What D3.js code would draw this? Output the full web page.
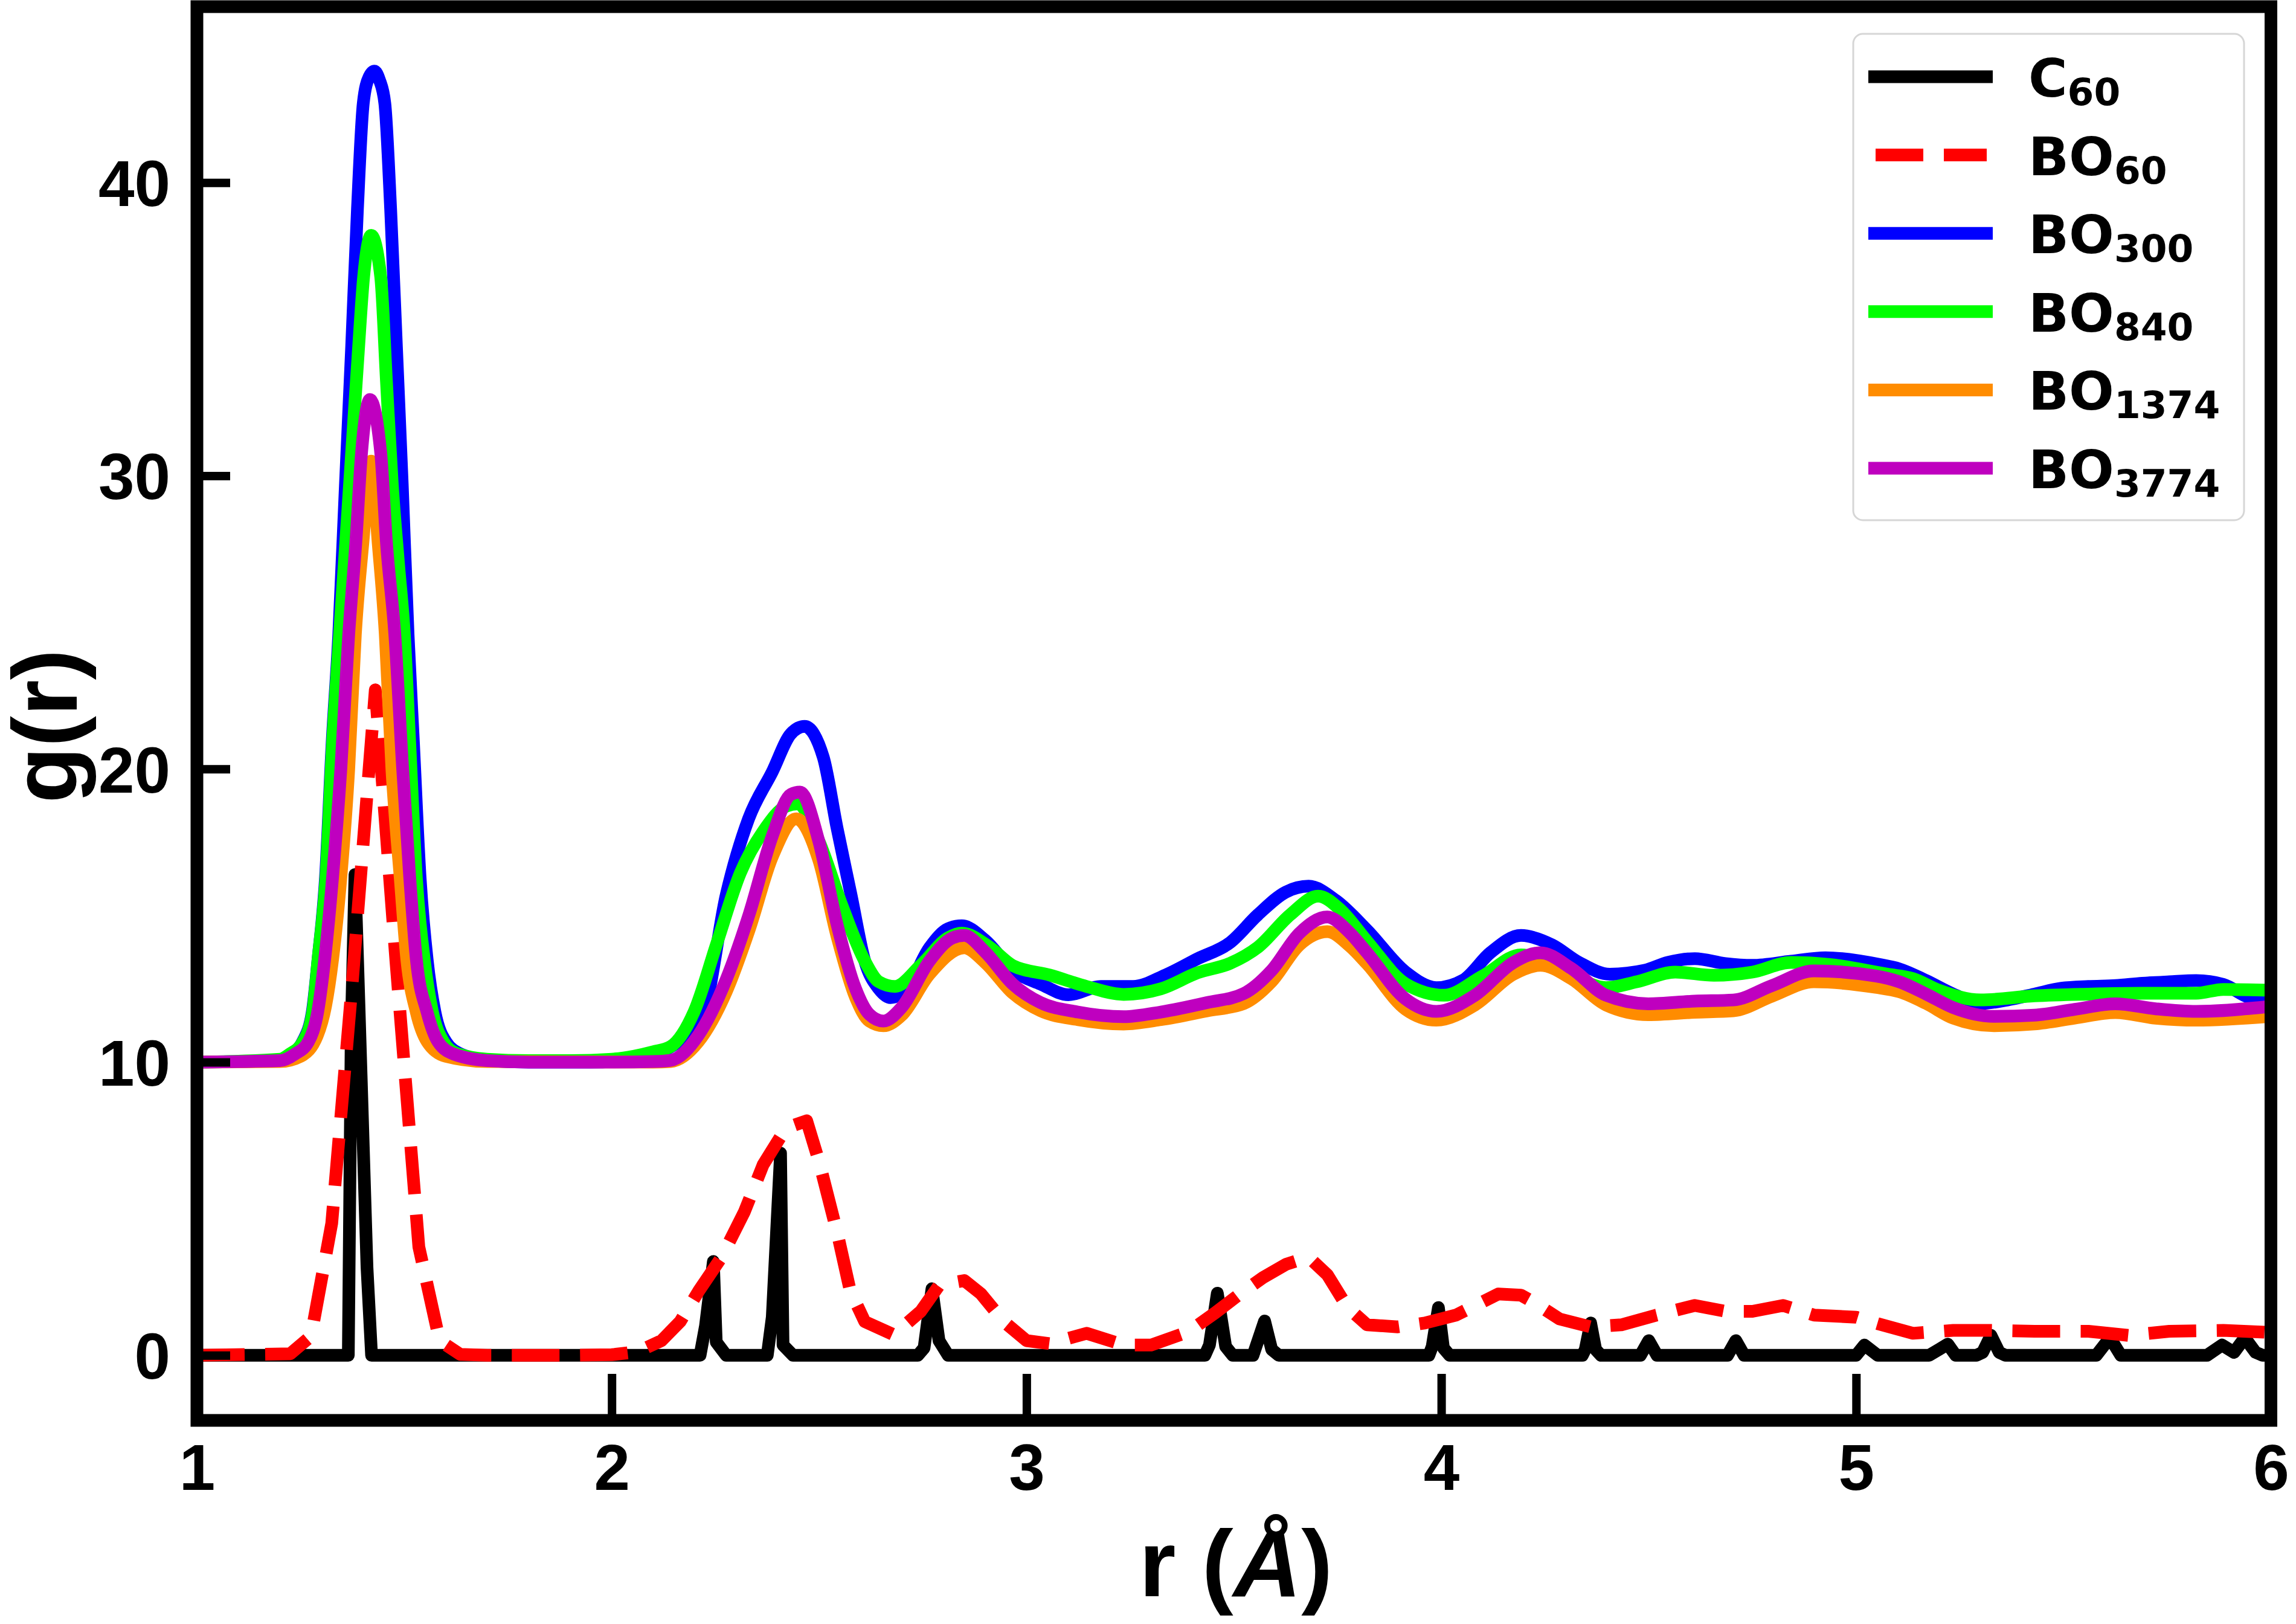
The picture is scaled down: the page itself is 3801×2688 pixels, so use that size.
<!DOCTYPE html>
<html>
<head>
<meta charset="utf-8">
<script src="https://cdn.jsdelivr.net/npm/d3@7"></script>
<style>
  body { margin: 0; background: #fff; }
  svg { display: block; }
</style>
</head>
<body>
<div id="chart"></div>
<script>
// radial distribution functions
// the BO300..BO3774 curves are drawn shifted up by 10, as in the figure

var xTicks = [1, 2, 3, 4, 5, 6];
var yTicks = [0, 10, 20, 30, 40];

var c60 = [
  [1.0,0],[1.365,0],[1.372,11],[1.381,16.4],[1.41,3.0],[1.421,0],
  [2.213,0],[2.226,1.0],[2.245,3.2],[2.252,0.45],[2.276,0],
  [2.375,0],[2.387,1.3],[2.407,6.9],[2.413,0.35],[2.437,0],
  [2.738,0],[2.753,0.25],[2.772,2.27],[2.789,0.5],[2.811,0],
  [3.43,0],[3.441,0.35],[3.46,2.12],[3.48,0.3],[3.497,0],
  [3.546,0],[3.574,1.17],[3.591,0.2],[3.608,0],
  [3.97,0],[3.978,0.3],[3.993,1.63],[4.005,0.25],[4.02,0],
  [4.34,0],[4.347,0.2],[4.36,1.1],[4.372,0.2],[4.385,0],
  [4.48,0],[4.50,0.5],[4.52,0],
  [4.69,0],[4.71,0.5],[4.73,0],
  [5.0,0],[5.02,0.35],[5.052,0],
  [5.176,0],[5.20,0.2],[5.221,0.38],[5.24,0],
  [5.29,0],[5.305,0.1],[5.325,0.68],[5.345,0.1],[5.36,0],
  [5.579,0],[5.612,0.6],[5.638,0],
  [5.846,0],[5.882,0.35],[5.911,0.1],[5.937,0.6],[5.963,0.1],[5.98,0],[6.0,0]
];

var bo60 = [
  [1.0,0],[1.225,0.05],[1.275,0.65],[1.325,4.5],[1.375,12.8],[1.43,22.7],
  [1.48,13.4],[1.535,3.7],[1.585,0.5],[1.635,0.03],[1.70,0],[1.90,0],[2.0,0.02],
  [2.062,0.12],[2.12,0.5],[2.165,1.15],[2.21,2.2],[2.265,3.35],[2.32,4.9],
  [2.365,6.5],[2.42,7.75],[2.47,8.0],[2.50,6.6],[2.545,4.1],[2.575,2.2],
  [2.61,1.15],[2.68,0.7],[2.745,1.5],[2.79,2.4],[2.85,2.55],[2.89,2.1],
  [2.945,1.15],[3.0,0.5],[3.055,0.4],[3.145,0.75],[3.235,0.35],[3.30,0.35],
  [3.39,0.8],[3.455,1.45],[3.515,2.1],[3.57,2.65],[3.625,3.1],[3.68,3.35],
  [3.725,2.75],[3.774,1.63],[3.821,1.04],[3.895,0.97],[3.96,1.1],[4.035,1.37],
  [4.072,1.63],[4.137,2.09],[4.192,2.05],[4.22,1.83],[4.285,1.24],[4.36,0.97],
  [4.434,1.04],[4.518,1.37],[4.611,1.7],[4.685,1.5],[4.75,1.5],[4.824,1.7],
  [4.899,1.37],[5.0,1.3],[5.052,1.08],[5.137,0.75],[5.234,0.85],[5.325,0.85],
  [5.43,0.82],[5.56,0.82],[5.657,0.68],[5.755,0.82],[5.885,0.85],[6.0,0.78]
];

var bo300 = [
  [1.0,10.0],[1.20,10.05],[1.225,10.25],[1.255,10.7],[1.278,11.7],[1.292,13.5],
  [1.310,16.3],[1.326,20.9],[1.342,24.6],[1.358,29.7],[1.373,34.4],[1.387,39.1],
  [1.401,42.7],[1.415,43.6],[1.428,43.8],[1.440,43.5],[1.453,42.7],[1.467,39.1],
  [1.481,34.4],[1.495,29.7],[1.509,24.6],[1.522,20.9],[1.538,16.3],[1.555,13.5],
  [1.574,11.7],[1.600,10.7],[1.640,10.25],[1.70,10.05],[1.80,10.0],[1.95,10.0],
  [2.05,10.1],[2.12,10.35],[2.17,10.8],[2.22,11.6],[2.276,15.7],[2.33,18.3],
  [2.387,19.9],[2.432,21.2],[2.465,21.45],[2.51,20.4],[2.543,18.0],[2.577,15.7],
  [2.61,13.45],[2.644,12.5],[2.672,12.2],[2.711,12.5],[2.766,13.9],[2.811,14.55],
  [2.844,14.65],[2.90,14.16],[2.967,13.13],[3.034,12.66],[3.101,12.3],[3.179,12.58],
  [3.257,12.58],[3.335,12.97],[3.413,13.53],[3.491,14.08],[3.558,15.03],[3.625,15.8],
  [3.68,16.0],[3.747,15.5],[3.821,14.5],[3.914,13.07],[3.988,12.54],[4.053,12.8],
  [4.118,13.73],[4.192,14.32],[4.267,14.0],[4.332,13.4],[4.406,13.0],[4.49,13.13],
  [4.546,13.4],[4.611,13.53],[4.685,13.36],[4.75,13.3],[4.843,13.44],[4.926,13.56],
  [5.056,13.33],[5.104,13.18],[5.169,12.78],[5.234,12.32],[5.30,12.0],[5.365,12.12],
  [5.43,12.32],[5.495,12.52],[5.56,12.58],[5.625,12.61],[5.69,12.69],[5.755,12.74],
  [5.82,12.78],[5.885,12.65],[5.95,12.19],[6.0,12.1]
];

var bo840 = [
  [1.0,10.0],[1.20,10.1],[1.223,10.27],[1.256,10.7],[1.279,11.7],[1.292,13.5],
  [1.311,16.3],[1.327,20.9],[1.344,24.6],[1.360,28.0],[1.374,31.0],[1.388,34.0],
  [1.402,36.8],[1.420,38.2],[1.443,36.8],[1.457,33.2],[1.471,29.7],[1.486,27.0],
  [1.500,24.6],[1.513,20.9],[1.529,16.3],[1.548,13.5],[1.568,11.7],[1.594,10.7],
  [1.626,10.3],[1.70,10.1],[1.80,10.05],[1.90,10.05],[2.0,10.1],[2.053,10.2],
  [2.10,10.35],[2.142,10.53],[2.198,11.7],[2.254,14.08],[2.31,16.45],[2.365,17.87],
  [2.421,18.73],[2.449,18.81],[2.499,17.55],[2.555,15.34],[2.61,13.45],[2.644,12.74],
  [2.683,12.58],[2.744,13.29],[2.811,14.24],[2.844,14.4],[2.911,13.92],[2.967,13.29],
  [3.056,12.97],[3.145,12.58],[3.234,12.31],[3.324,12.5],[3.413,13.05],[3.491,13.37],
  [3.558,13.92],[3.636,15.03],[3.703,15.66],[3.758,15.18],[3.821,14.12],[3.914,12.67],
  [4.007,12.28],[4.10,12.94],[4.192,13.66],[4.285,13.2],[4.397,12.54],[4.471,12.74],
  [4.564,13.07],[4.657,12.96],[4.75,13.07],[4.843,13.4],[4.936,13.33],[5.075,13.0],
  [5.137,12.85],[5.20,12.45],[5.30,12.12],[5.43,12.26],[5.56,12.32],[5.69,12.35],
  [5.82,12.35],[5.885,12.48],[6.0,12.45]
];

var bo1374 = [
  [1.0,10.0],[1.20,10.02],[1.25,10.2],[1.29,10.9],[1.31,11.9],[1.327,13.5],
  [1.347,16.3],[1.366,20.0],[1.382,24.6],[1.400,27.7],[1.420,30.5],[1.437,27.7],
  [1.454,24.6],[1.470,20.0],[1.490,16.3],[1.506,13.5],[1.529,11.7],[1.555,10.7],
  [1.60,10.2],[1.70,10.02],[2.10,10.0],[2.142,10.02],[2.209,10.7],[2.276,12.4],
  [2.331,14.5],[2.387,17.0],[2.445,18.3],[2.499,16.9],[2.543,14.3],[2.588,12.2],
  [2.621,11.4],[2.655,11.24],[2.699,11.6],[2.766,13.0],[2.85,13.9],[2.90,13.4],
  [2.967,12.35],[3.034,11.75],[3.123,11.45],[3.234,11.3],[3.324,11.45],[3.435,11.75],
  [3.524,12.0],[3.591,12.75],[3.658,14.0],[3.725,14.45],[3.78,13.95],[3.821,13.35],
  [3.914,11.8],[3.988,11.43],[4.081,11.95],[4.174,13.0],[4.239,13.3],[4.313,12.85],
  [4.397,11.95],[4.499,11.62],[4.611,11.7],[4.704,11.75],[4.797,12.25],[4.898,12.74],
  [5.047,12.55],[5.104,12.4],[5.169,12.0],[5.234,11.5],[5.332,11.24],[5.43,11.3],
  [5.527,11.5],[5.625,11.69],[5.722,11.5],[5.82,11.43],[6.0,11.56]
];

var bo3774 = [
  [1.0,10.0],[1.20,10.05],[1.236,10.27],[1.269,10.7],[1.291,11.7],[1.308,13.5],
  [1.327,16.3],[1.347,20.0],[1.366,24.6],[1.383,27.7],[1.397,30.8],[1.417,32.6],
  [1.443,30.8],[1.457,27.7],[1.477,24.6],[1.496,20.0],[1.513,16.3],[1.529,13.5],
  [1.555,11.7],[1.581,10.7],[1.62,10.27],[1.70,10.05],[1.80,10.0],[2.0,10.0],
  [2.10,10.02],[2.142,10.06],[2.209,10.92],[2.276,12.82],[2.331,15.03],[2.387,17.71],
  [2.432,19.13],[2.454,19.21],[2.499,17.55],[2.543,14.71],[2.588,12.5],[2.621,11.63],
  [2.655,11.4],[2.699,11.87],[2.766,13.45],[2.822,14.24],[2.85,14.32],[2.90,13.76],
  [2.967,12.66],[3.034,12.03],[3.123,11.71],[3.234,11.55],[3.324,11.71],[3.435,12.03],
  [3.524,12.34],[3.591,13.13],[3.658,14.4],[3.725,14.95],[3.78,14.4],[3.821,13.73],
  [3.914,12.15],[3.988,11.73],[4.081,12.28],[4.174,13.4],[4.239,13.73],[4.313,13.2],
  [4.397,12.28],[4.499,11.99],[4.611,12.08],[4.704,12.12],[4.797,12.61],[4.898,13.11],
  [5.047,12.94],[5.104,12.74],[5.169,12.32],[5.234,11.86],[5.332,11.56],[5.43,11.6],
  [5.527,11.8],[5.625,11.99],[5.722,11.82],[5.82,11.73],[6.0,11.9]
];

var seriesNames = ["C", "BO", "BO", "BO", "BO", "BO"];
var seriesSubs = ["60", "60", "300", "840", "1374", "3774"];
var seriesColors = ["#000000", "#ff0000", "#0000ff", "#00ff00", "#ff8c00", "#bf00bf"];
var seriesData = [c60, bo60, bo300, bo840, bo1374, bo3774];

var W = 3801, H = 2688;
var plotLeft = 326, plotRight = 3759.5, plotTop = 11, plotBottom = 2351;
var lw = 21;

var svg = d3.select("#chart")
    .append("svg")
    .attr("width", W)
    .attr("height", H)
    .style("background", "#fff");

var x = d3.scaleLinear().domain([1, 6]).range([plotLeft, plotRight]);
var y = d3.scaleLinear().domain([-2.22, 46.0]).range([plotBottom, plotTop]);

svg.append("clipPath")
    .attr("id", "plotClip")
    .append("rect")
    .attr("x", plotLeft).attr("y", plotTop)
    .attr("width", plotRight - plotLeft).attr("height", plotBottom - plotTop);

var gLines = svg.append("g").attr("clip-path", "url(#plotClip)");

seriesData.forEach(function (data, i) {
    var line = d3.line()
        .x(function (d) { return x(d[0]); })
        .y(function (d) { return y(d[1]); })
        .curve(i < 2 ? d3.curveLinear : d3.curveMonotoneX);
    var p = gLines.append("path")
        .datum(data)
        .attr("d", line)
        .attr("fill", "none")
        .attr("stroke", seriesColors[i])
        .attr("stroke-width", lw)
        .attr("stroke-linejoin", "round");
    if (i == 1) {
        p.attr("stroke-dasharray", "79,34");
    }
});

// axes, ticks pointing inward
var xAxis = d3.axisBottom(x).tickValues(xTicks).tickSizeInner(-77).tickSizeOuter(0)
    .tickFormat(d3.format("d"));
var gx = svg.append("g")
    .attr("transform", "translate(0," + plotBottom + ")")
    .call(xAxis);
gx.select(".domain").remove();
gx.selectAll(".tick line").attr("stroke", "#000").attr("stroke-width", 14);
gx.selectAll(".tick text")
    .attr("y", 115)
    .attr("dy", null)
    .attr("fill", "#000")
    .style("font-family", "'Liberation Sans', Arial, sans-serif")
    .style("font-weight", "bold")
    .style("font-size", "107px");

var yAxis = d3.axisLeft(y).tickValues(yTicks).tickSizeInner(-55).tickSizeOuter(0)
    .tickFormat(d3.format("d"));
var gy = svg.append("g")
    .attr("transform", "translate(" + plotLeft + ",0)")
    .call(yAxis);
gy.select(".domain").remove();
gy.selectAll(".tick line").attr("stroke", "#000").attr("stroke-width", 14);
gy.selectAll(".tick text")
    .attr("x", -44)
    .attr("dy", "0.36em")
    .attr("fill", "#000")
    .style("font-family", "'Liberation Sans', Arial, sans-serif")
    .style("font-weight", "bold")
    .style("font-size", "107px");

// frame
svg.append("rect")
    .attr("x", plotLeft).attr("y", plotTop)
    .attr("width", plotRight - plotLeft).attr("height", plotBottom - plotTop)
    .attr("fill", "none")
    .attr("stroke", "#000")
    .attr("stroke-width", 21);

// axis labels
var xl = svg.append("text")
    .attr("x", 2046)
    .attr("y", 2642)
    .attr("text-anchor", "middle")
    .style("font-family", "'Liberation Sans', Arial, sans-serif")
    .style("font-weight", "bold")
    .style("font-size", "156px");
xl.append("tspan").text("r (");
xl.append("tspan").style("font-style", "italic").text("Å");
xl.append("tspan").text(")");

svg.append("text")
    .attr("transform", "translate(127,1202) rotate(-90)")
    .attr("text-anchor", "middle")
    .style("font-family", "'Liberation Sans', Arial, sans-serif")
    .style("font-weight", "bold")
    .style("font-size", "153px")
    .text("g(r)");

// legend
var legend = svg.append("g");
legend.append("rect")
    .attr("x", 3068).attr("y", 56)
    .attr("width", 647).attr("height", 805)
    .attr("rx", 16).attr("ry", 16)
    .attr("fill", "#fff").attr("fill-opacity", 0.8)
    .attr("stroke", "#d6d6d6").attr("stroke-width", 3);

seriesNames.forEach(function (name, i) {
    var ly = 127 + i * 129.6;
    var ln = legend.append("line")
        .attr("x1", i == 1 ? 3105 : 3093).attr("x2", i == 1 ? 3289 : 3299)
        .attr("y1", ly).attr("y2", ly)
        .attr("stroke", seriesColors[i])
        .attr("stroke-width", lw);
    if (i == 1) ln.attr("stroke-dasharray", "79,34");

    var t = legend.append("text")
        .attr("x", 3358)
        .attr("y", ly + 33)
        .style("font-family", "'DejaVu Sans', sans-serif")
        .style("font-weight", "bold")
        .style("font-size", "88px");
    t.append("tspan").text(name);
    t.append("tspan")
        .attr("dy", 14)
        .style("font-size", "63px")
        .text(seriesSubs[i]);
});
</script>
</body>
</html>
